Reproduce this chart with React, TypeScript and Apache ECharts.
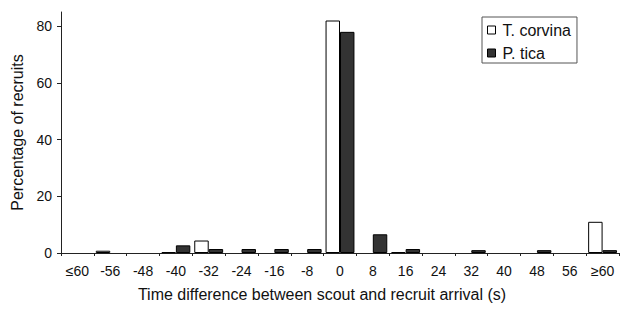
import React, { useEffect, useRef } from "react";
import * as echarts from "echarts";

const categories = ["≤60", "-56", "-48", "-40", "-32", "-24", "-16", "-8", "0", "8", "16", "24", "32", "40", "48", "56", "≥60"];
const tCorvina = [0, 0.8, 0, 0.3, 4.4, 0, 0, 0, 82, 0, 0.3, 0, 0, 0, 0, 0, 11];
const pTica = [0, 0, 0, 2.7, 1.4, 1.4, 1.4, 1.4, 78, 6.6, 1.4, 0, 1, 0, 1, 0, 1];
const yTicks = [0, 20, 40, 60, 80];

const FONT = "'Liberation Sans', Arial, Helvetica, sans-serif";
const hideZero = (arr: number[]) => arr.map((v) => (v === 0 ? null : v));

export default function App() {
  const ref = useRef<HTMLDivElement>(null);
  useEffect(() => {
    if (!ref.current) return;
    const chart = echarts.init(ref.current, null, { renderer: "svg" });
    chart.setOption({
      animation: false,
      textStyle: { fontFamily: FONT },
      grid: { left: 61, right: 1, top: 12, bottom: 59, containLabel: false },
      legend: {
        orient: "vertical",
        left: 482,
        top: 17,
        padding: [5, 6, 2, 5],
        borderColor: "#555",
        borderWidth: 1,
        backgroundColor: "#fff",
        itemWidth: 8,
        itemHeight: 8,
        itemGap: 7,
        icon: "rect",
        textStyle: { fontSize: 16, color: "#111", fontFamily: FONT, padding: [0, 0, 0, 2] },
        data: [
          { name: "T. corvina", itemStyle: { color: "#fff", borderColor: "#000", borderWidth: 1 } },
          { name: "P. tica", itemStyle: { color: "#333", borderColor: "#000", borderWidth: 1 } },
        ],
      },
      xAxis: {
        type: "category",
        data: categories,
        axisLine: { lineStyle: { color: "#222", width: 1 } },
        axisTick: { show: true, alignWithLabel: false, length: 3, lineStyle: { color: "#222" } },
        axisLabel: { fontSize: 14, color: "#111", margin: 11, interval: 0, fontFamily: FONT },
      },
      yAxis: {
        type: "value",
        min: 0,
        max: 85,
        name: "Percentage of recruits",
        nameLocation: "middle",
        nameGap: 34,
        nameTextStyle: { fontSize: 16, color: "#111", fontFamily: FONT },
        splitLine: { show: false },
        axisLine: { show: true, lineStyle: { color: "#222", width: 1 } },
        axisTick: { show: true, length: 4, customValues: yTicks, lineStyle: { color: "#222" } },
        axisLabel: { fontSize: 14, color: "#111", margin: 9, customValues: yTicks, fontFamily: FONT },
      },
      graphic: [
        {
          type: "text",
          x: 322,
          y: 294,
          style: {
            text: "Time difference between scout and recruit arrival (s)",
            fontSize: 16,
            fill: "#111",
            fontFamily: FONT,
            align: "center",
            verticalAlign: "middle",
          },
        },
      ],
      series: [
        {
          name: "T. corvina",
          type: "bar",
          data: hideZero(tCorvina),
          barGap: "0%",
          barCategoryGap: "12%",
          itemStyle: { color: "#fff", borderColor: "#000", borderWidth: 1 },
        },
        {
          name: "P. tica",
          type: "bar",
          data: hideZero(pTica),
          barGap: "0%",
          barCategoryGap: "12%",
          itemStyle: { color: "#333", borderColor: "#000", borderWidth: 1 },
        },
      ],
    });
    return () => chart.dispose();
  }, []);
  return <div ref={ref} style={{ width: 620, height: 312, position: "absolute", left: 0, top: 0 }} />;
}
